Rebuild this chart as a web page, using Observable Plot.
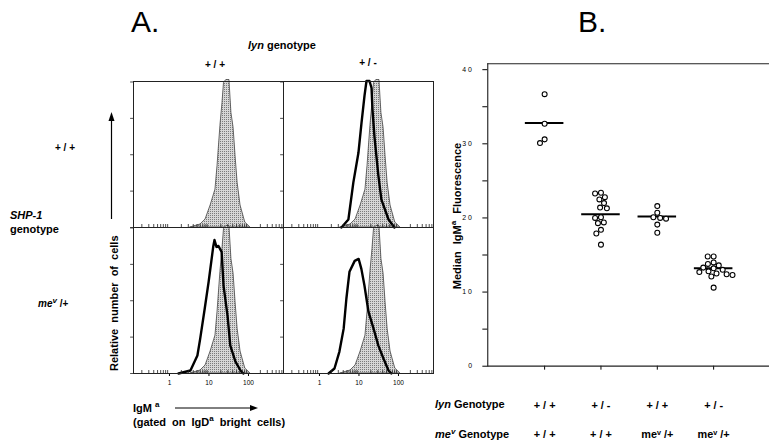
<!DOCTYPE html>
<html><head><meta charset="utf-8">
<script src="https://cdn.jsdelivr.net/npm/d3@7"></script>
<script src="https://cdn.jsdelivr.net/npm/@observablehq/plot@0.6"></script>
<style>
body{margin:0;background:#fff;}
#fig{position:relative;width:769px;height:442px;overflow:hidden;background:#fff;font-family:"Liberation Sans",Arial,sans-serif;}
#fig > svg{position:absolute;left:0;top:0;}
</style></head>
<body><div id="fig"><svg width="0" height="0" style="position:absolute"><defs>
<pattern id="stip" width="2" height="2" patternUnits="userSpaceOnUse"><rect width="2" height="2" fill="#d6d6d6"/><rect width="1" height="1" fill="#7a7a7a"/></pattern>
</defs></svg></div>
<script>
// ---------- Panel A: histograms (IgMa fluorescence, relative cell counts) ----------
const lynGenotypes = ["+/+", "+/-"];
const shp1Genotypes = ["+/+", "mev/+"];
// reference (shaded) histogram, same in every panel
const ctrlFluor = [3.4, 6.1, 8.2, 11, 14.6, 16.5, 19.5, 22, 24, 27.5, 33, 37, 42, 47, 53, 63, 83, 112];
const ctrlCount = [0, 3, 8, 22, 38, 62, 102, 125, 145, 148, 148, 115, 100, 72, 45, 22, 5, 0];
// bold line, lyn +/-, SHP-1 +/+
const lynHetFluor = [3.6, 5.4, 7.2, 9.7, 11.6, 13.8, 15.5, 18.5, 20.8, 22, 24.7, 31, 37, 56, 79];
const lynHetCount = [0, 8, 45, 75, 105, 132, 147, 147, 140, 118, 91, 52, 28, 8, 0];
// bold line, lyn +/+, SHP-1 mev/+
const mevHetFluor = [1.7, 3.4, 5.1, 6.0, 7.8, 9.8, 12.9, 13.8, 15.5, 17.4, 20.9, 23.4, 29.5, 34.7, 46.8, 63, 74];
const mevHetCount = [0, 3, 18, 35, 65, 92, 128, 134, 127, 128, 122, 88, 58, 28, 12, 3, 0];
// bold line, lyn +/-, SHP-1 mev/+
const doubleFluor = [1.7, 2.4, 3.2, 4.1, 4.8, 5.75, 7.8, 9.8, 11.5, 13.8, 17.4, 23.4, 31, 41.7, 56, 66];
const doubleCount = [0, 5, 22, 45, 75, 102, 113, 115, 105, 88, 62, 45, 28, 15, 3, 0];
const histTicks = [1, 10, 100];
const minorTicks = [0.2,0.3,0.4,0.5,0.6,0.7,0.8,0.9,2,3,4,5,6,7,8,9,20,30,40,50,60,70,80,90,200,300,400,500,600,700];
const countTicks = [0, 36.5, 73, 109.5, 146];

// ---------- Panel B: median IgMa fluorescence ----------
const groups = ["lyn+/+ mev+/+", "lyn+/- mev+/+", "lyn+/+ mev/+", "lyn+/- mev/+"];
const lynRow = ["+ / +", "+ / -", "+ / +", "+ / -"];
const mevRow = ["+ / +", "+ / +", "meᵛ /+", "meᵛ /+"];
const g1 = [36.7, 32.7, 30.6, 30.1];
const g2 = [23.4, 23.3, 22.8, 22.5, 22.0, 21.4, 21.3, 20.1, 20.0, 19.4, 19.3, 18.4, 17.9, 16.4];
const g3 = [21.6, 20.7, 20.1, 20.0, 19.9, 19.1, 18.0];
const g4 = [14.8, 14.8, 14.0, 13.8, 13.6, 13.3, 13.2, 13.0, 12.8, 12.7, 12.5, 12.4, 12.3, 12.1, 10.6];
const medians = [32.8, 20.5, 20.2, 13.2];
const medianTicks = [0, 5, 10, 15, 20, 25, 30, 35, 40];

// ---------- build tables ----------
const ctrlRows = [], lineRows = [];
for (const lyn of lynGenotypes) for (const shp of shp1Genotypes) {
  ctrlFluor.forEach((x, i) => ctrlRows.push({lyn, shp, x, n: ctrlCount[i]}));
}
function addLine(lyn, shp, xs, ns) { xs.forEach((x, i) => lineRows.push({lyn, shp, x, n: ns[i]})); }
addLine("+/-", "+/+", lynHetFluor, lynHetCount);
addLine("+/+", "mev/+", mevHetFluor, mevHetCount);
addLine("+/-", "mev/+", doubleFluor, doubleCount);

const dots = [];
[g1, g2, g3, g4].forEach((vals, i) => vals.forEach(v => dots.push({g: groups[i], v})));
const medianRows = groups.map((g, i) => ({g, m: medians[i], lyn: lynRow[i], mev: mevRow[i]}));

const fig = document.getElementById("fig");

const panelA = Plot.plot({
  width: 769, height: 442,
  marginLeft: 133, marginRight: 336, marginTop: 80, marginBottom: 69,
  style: {background: "transparent", fontFamily: "Liberation Sans, Arial, sans-serif", fontSize: "6.5px", overflow: "visible"},
  fx: {domain: lynGenotypes, padding: 0, axis: null},
  fy: {domain: shp1Genotypes, padding: 0, axis: null},
  x: {type: "log", domain: [0.123, 770], ticks: histTicks, tickFormat: d => String(d), tickSize: 3, tickPadding: 4, label: null},
  y: {domain: [0, 146.5], axis: null},
  marks: [
    Plot.areaY(ctrlRows, {x: "x", y: "n", fx: "lyn", fy: "shp", fill: "url(#stip)", stroke: "#444", strokeWidth: 0.8}),
    Plot.lineY(lineRows, {x: "x", y: "n", fx: "lyn", fy: "shp", stroke: "#000", strokeWidth: 2.4}),
    Plot.ruleX(minorTicks, {x: d => d, y1: d => 0, y2: d => 3, stroke: "#222", strokeWidth: 0.8}),
    Plot.ruleY(countTicks, {y: d => d, x1: d => 0.104, x2: d => 0.123, stroke: "#222", strokeWidth: 0.8}),
    Plot.frame({stroke: "#222", strokeWidth: 1})
  ]
});
fig.appendChild(panelA);

const panelBAxes = Plot.plot({
  width: 778, height: 442,
  marginLeft: 493, marginRight: 0, marginTop: 64, marginBottom: 72,
  style: {background: "transparent", fontFamily: "Liberation Sans, Arial, sans-serif", fontSize: "7px", overflow: "visible"},
  x: {domain: groups, paddingInner: 0, paddingOuter: 0.5, tickSize: 4, tickFormat: () => "", label: null},
  y: {domain: [0, 40.8], ticks: medianTicks, tickFormat: d => d % 10 === 0 ? String(d).split("").join(" ") : "", tickSize: 5, tickPadding: 11, label: null, line: true},
  marks: [
    Plot.ruleY([0], {stroke: "#222", strokeWidth: 1.2}),
    Plot.ruleY([40.8], {stroke: "#222", strokeWidth: 1.2}),
    Plot.tickY(medianRows, {x: "g", y: "m", stroke: "#000", strokeWidth: 2, insetLeft: 9, insetRight: 9}),
    Plot.text(medianRows, {x: "g", text: "lyn", frameAnchor: "bottom", dy: 43, fontSize: 11, fontWeight: "bold"}),
    Plot.text(medianRows, {x: "g", text: "mev", frameAnchor: "bottom", dy: 73, fontSize: 11, fontWeight: "bold", fontStyle: d => d.mev.startsWith("me") ? "italic" : "normal"})
  ]
});
fig.appendChild(panelBAxes);

const panelBDots = Plot.plot({
  width: 778, height: 442,
  marginLeft: 493, marginRight: 0, marginTop: 64, marginBottom: 72,
  style: {background: "transparent", overflow: "visible"},
  fx: {domain: groups, paddingInner: 0, paddingOuter: 0.5, axis: null},
  y: {domain: [0, 40.8], axis: null},
  marks: [
    Plot.dot(dots, Plot.dodgeX("middle", {fx: "g", y: "v", r: 2.5, padding: 0.3, fill: "white", stroke: "#000", strokeWidth: 1.1}))
  ]
});
fig.appendChild(panelBDots);

// ---------- text labels ----------
const ns = "http://www.w3.org/2000/svg";
const lab = document.createElementNS(ns, "svg");
lab.setAttribute("width", 769); lab.setAttribute("height", 442);
lab.innerHTML = `
<g font-family="Liberation Sans, Arial, sans-serif" font-weight="bold" font-size="11" fill="#000">
  <text x="131" y="32" font-size="30" font-weight="normal">A.</text>
  <text x="578" y="32" font-size="30" font-weight="normal">B.</text>
  <text x="248" y="49"><tspan font-style="italic">lyn</tspan> genotype</text>
  <text x="215" y="68" text-anchor="middle" font-size="10">+ / +</text>
  <text x="368" y="66" text-anchor="middle" font-size="10">+ / -</text>
  <text x="65" y="151" text-anchor="middle" font-size="10">+ / +</text>
  <text x="10" y="219" font-style="italic">SHP-1</text>
  <text x="10" y="233">genotype</text>
  <text x="38" y="307" font-size="10"><tspan font-style="italic">me</tspan><tspan font-style="italic" dy="-4" font-size="8">v</tspan><tspan dy="4"> /+</tspan></text>
  <text transform="translate(118,371) rotate(-90)" word-spacing="3">Relative number of cells</text>
  <line x1="111.5" y1="219" x2="111.5" y2="120" stroke="#000" stroke-width="1.2"/>
  <path d="M108.5,121 L111.5,112 L114.5,121 Z" fill="#000"/>
  <text x="133" y="412">IgM <tspan dy="-5" font-size="8">a</tspan></text>
  <line x1="175" y1="408" x2="251" y2="408" stroke="#000" stroke-width="1"/>
  <path d="M250,405 L258,408 L250,411 Z" fill="#000"/>
  <text x="133" y="426" word-spacing="3">(gated on IgD<tspan dy="-5" font-size="8">a</tspan><tspan dy="5"> bright cells)</tspan></text>
  <text transform="translate(461,216) rotate(-90)" text-anchor="middle" word-spacing="4">Median IgM<tspan dy="-5" font-size="8">a</tspan><tspan dy="5"> Fluorescence</tspan></text>
  <text x="435" y="408"><tspan font-style="italic">lyn</tspan> Genotype</text>
  <text x="435" y="438"><tspan font-style="italic">me</tspan><tspan font-style="italic" dy="-4" font-size="8">v</tspan><tspan dy="4"> Genotype</tspan></text>
</g>`;
fig.appendChild(lab);
</script>
</body></html>
